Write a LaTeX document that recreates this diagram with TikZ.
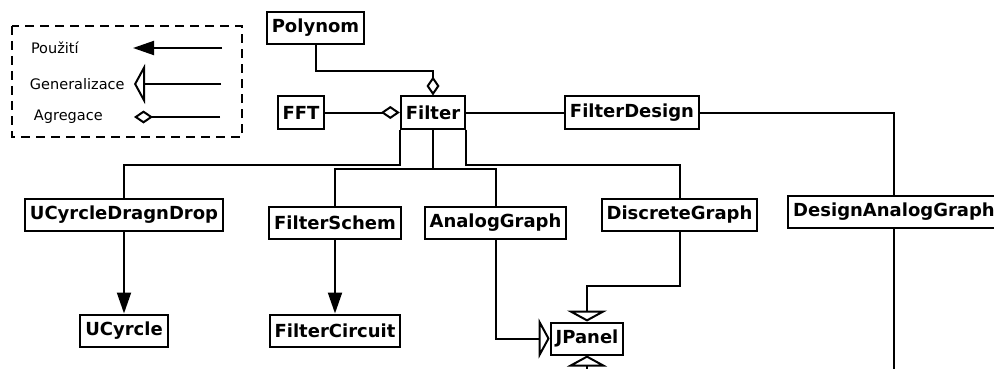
\documentclass[tikz,border=0pt]{standalone}
\usepackage{fontspec}
\setmainfont{DejaVu Sans}
\usetikzlibrary{arrows.meta}

\tikzset{
    cls/.style={draw, line width=2pt, fill=white, inner xsep=5pt, inner ysep=0pt,
        minimum height=32pt, font=\fontsize{18}{20}\selectfont\bfseries},
    legendtext/.style={anchor=west, inner sep=0pt, font=\fontsize{14.5}{17}\selectfont},
    uses/.style={-{Triangle[length=21pt,width=14pt]}},
    gen/.style={-{Triangle[open,length=11pt,width=40pt]}},
    agg/.style={-{Diamond[open,length=19pt,width=13pt]}}
}

\begin{document}
\begin{tikzpicture}[x=1pt, y=-1pt, line width=2pt]
    \path[use as bounding box] (0,0) rectangle (994,369);
    \clip (0,0) rectangle (994,369);

    \draw [dash pattern=on 9pt off 6pt] (12,26) rectangle (242,137);
    \node [legendtext] (usage) at (30,48) {Použití};
    \node [legendtext] (generalization) at (29,84) {Generalizace};
    \node [legendtext] (aggregation) at (33,117) {Agregace};
    \coordinate (usageFrom) at (222,48);
    \coordinate (usageTo) at (133,48);
    \coordinate (genFrom) at (221,84);
    \coordinate (genTo) at (134,84);
    \coordinate (aggFrom) at (220,117);
    \coordinate (aggTo) at (134,117);
    \draw [uses] (usageFrom) -- (usageTo);
    \draw [gen] (genFrom) -- (genTo);
    \draw [agg] (aggFrom) -- (aggTo);

    \node [cls] (polynom) at (315.5,28) {Polynom};
    \node [cls] (filter) at (433,112.5) {Filter};
    \node [cls] (fft) at (301,112.5) {FFT};
    \node [cls] (filterDesign) at (632,112.5) {FilterDesign};
    \node [cls] (ucyrcleDnD) at (124,215) {UCyrcleDragnDrop};
    \node [cls] (filterSchem) at (335,223) {FilterSchem};
    \node [cls] (analogGraph) at (495.5,223) {AnalogGraph};
    \node [cls] (discreteGraph) at (679.5,215) {DiscreteGraph};
    \node [cls] (designAnalog) at (894,212) {DesignAnalogGraph};
    \node [cls] (ucyrcle) at (124,330.5) {UCyrcle};
    \node [cls] (filterCircuit) at (335,330.5) {FilterCircuit};
    \node [cls] (jpanel) at (587,338.5) {JPanel};
    \coordinate (panelChild) at (587,400);
    \coordinate (designChild) at (894,400);

    \draw [agg] (polynom.south) -- ++(0,26) -| (filter.north);
    \draw [agg] (fft.east) -- (filter.west);
    \draw (filter.east) -- (filterDesign.west);
    \draw (filterDesign.east) -| (designAnalog.north);
    \draw (designAnalog.south) -- (designChild);
    \draw (filter.south west) -- ++(0,35) -| (ucyrcleDnD.north);
    \draw (filter.south) -- ++(0,39) -| (filterSchem.north);
    \draw (filter.south) -- ++(0,39) -| (analogGraph.north);
    \draw (filter.south east) -- ++(0,35) -| (discreteGraph.north);
    \draw [uses] (ucyrcleDnD.south) -- (ucyrcle.north);
    \draw [uses] (filterSchem.south) -- (filterCircuit.north);
    \draw [gen] (analogGraph.south) |- (jpanel.west);
    \draw [gen] (discreteGraph.south) -- ++(0,54) -| (jpanel.north);
    \draw [gen] (panelChild) -- (jpanel.south);
\end{tikzpicture}
\end{document}
